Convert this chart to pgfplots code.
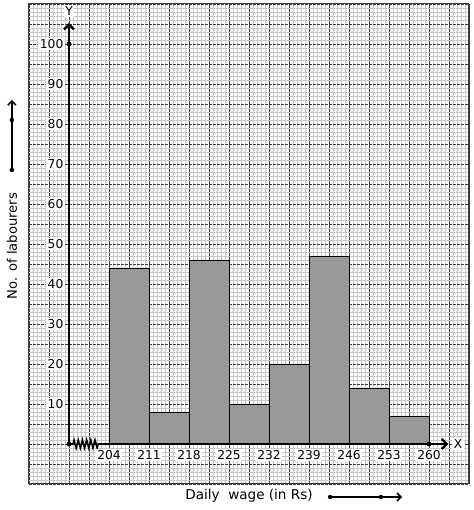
\documentclass[border=0pt]{standalone}
\usepackage{pgfplots}
\pgfplotsset{compat=1.18}
\usepackage{fontspec}
\setmainfont{DejaVu Sans}
\usetikzlibrary{arrows.meta,decorations.pathmorphing}
\definecolor{minorg}{RGB}{200,200,200}
\definecolor{majorg}{RGB}{60,60,60}
\definecolor{barg}{RGB}{153,153,153}

\begin{document}
\begin{tikzpicture}[font=\fontsize{12.3}{14}\selectfont,
  lbl/.style={fill=white,inner sep=1.5pt}]
\begin{axis}[x=5.7142857bp,y=4bp,
  xmin=190,xmax=267,ymin=-10,ymax=110,
  xtick={190,193.5,...,267.1},ytick={-10,-5,...,110},
  minor x tick num=4,minor y tick num=4,
  xticklabels={},yticklabels={},
  major tick length=0pt,minor tick length=0pt,
  grid=both,
  minor grid style={minorg,line width=0.6bp},
  major x grid style={majorg,line width=0.9bp},
  major y grid style={majorg,line width=0.9bp,dash pattern=on 3bp off 1bp},
  axis line style={majorg,line width=1bp},
  clip=false]
\addplot[ybar interval,fill=barg,draw=black,line width=0.8bp] coordinates
  {(204,44) (211,8) (218,46) (225,10) (232,20) (239,47) (246,14) (253,7) (260,7)};
% axes
\draw[line width=2.4bp,-{Straight Barb[length=5bp,width=10bp]}] (axis cs:197,0) -- (axis cs:197,105.3);
\draw[line width=2.4bp] (axis cs:197,0) -- (axis cs:197.7,0);
\draw[line width=1.6bp,decorate,decoration={zigzag,segment length=4.2bp,amplitude=4bp}]
  (axis cs:197.7,0) -- (axis cs:202.4,0);
\draw[line width=2.4bp,-{Straight Barb[length=5bp,width=10bp]}] (axis cs:202.4,0) -- (axis cs:263.4,0);
\addplot[only marks,mark=*,mark size=2.2bp,black] coordinates {(197,0) (197,100) (260,0)};
\node[lbl] at (axis cs:197,108.3) {Y};
\node[lbl] at (axis cs:265.1,0) {X};
% tick labels
\node[lbl,anchor=north] at (axis cs:204,-1.2) {204};
\node[lbl,anchor=north] at (axis cs:211,-1.2) {211};
\node[lbl,anchor=north] at (axis cs:218,-1.2) {218};
\node[lbl,anchor=north] at (axis cs:225,-1.2) {225};
\node[lbl,anchor=north] at (axis cs:232,-1.2) {232};
\node[lbl,anchor=north] at (axis cs:239,-1.2) {239};
\node[lbl,anchor=north] at (axis cs:246,-1.2) {246};
\node[lbl,anchor=north] at (axis cs:253,-1.2) {253};
\node[lbl,anchor=north] at (axis cs:260,-1.2) {260};
\node[lbl,anchor=east] at (axis cs:196.3,100) {100};
\node[lbl,anchor=east] at (axis cs:196.3,90) {90};
\node[lbl,anchor=east] at (axis cs:196.3,80) {80};
\node[lbl,anchor=east] at (axis cs:196.3,70) {70};
\node[lbl,anchor=east] at (axis cs:196.3,60) {60};
\node[lbl,anchor=east] at (axis cs:196.3,50) {50};
\node[lbl,anchor=east] at (axis cs:196.3,40) {40};
\node[lbl,anchor=east] at (axis cs:196.3,30) {30};
\node[lbl,anchor=east] at (axis cs:196.3,20) {20};
\node[lbl,anchor=east] at (axis cs:196.3,10) {10};
% axis titles and direction arrows
\node[rotate=90,font=\fontsize{13.2}{15}\selectfont] at (axis cs:187.0,49.5) {No. of labourers};
\draw[line width=1.6bp,-{Straight Barb[length=4bp,width=8bp]}] (axis cs:187.0,68.5) -- (axis cs:187.0,86);
\addplot[only marks,mark=*,mark size=2bp,black] coordinates {(187.0,68.5) (187.0,81)};
\node[font=\fontsize{13.6}{15}\selectfont] at (axis cs:228.5,-13) {Daily\ \ wage (in Rs)};
\draw[line width=1.6bp,-{Straight Barb[length=4bp,width=8bp]}] (axis cs:242.7,-13.25) -- (axis cs:255.3,-13.25);
\addplot[only marks,mark=*,mark size=2bp,black] coordinates {(242.7,-13.25) (251.6,-13.25)};
\coordinate (bl) at (axis cs:184.925,-16.5);
\coordinate (tr) at (axis cs:267.875,111);
\end{axis}
\pgfresetboundingbox
\path[use as bounding box] (bl) rectangle (tr);
\end{tikzpicture}
\end{document}
